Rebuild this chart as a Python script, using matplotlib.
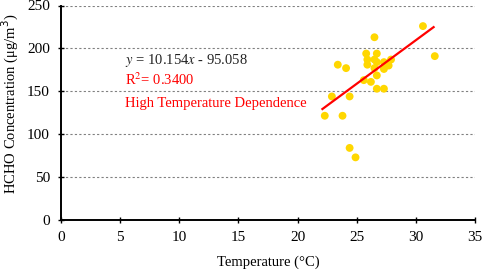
import numpy as np
import matplotlib.pyplot as plt

# Datos
temp = [22.3, 22.9, 23.4, 23.8, 24.1, 24.4, 24.4, 24.9, 25.6, 25.8,
        25.9, 25.9, 26.2, 26.5, 26.5, 26.5, 26.7, 26.7, 26.7, 26.7,
        27.3, 27.3, 27.3, 27.7, 27.9, 30.6, 31.6]
hcho = [121.5, 144, 181, 121.5, 177, 144, 84, 73, 163, 194,
        187, 181, 161, 213, 187, 177, 194, 184, 168.5, 153,
        184, 176, 153, 180, 187, 226, 191]
slope = 10.154
intercept = -95.058
r2 = 0.3400

plt.rcParams['font.family'] = ['Liberation Serif', 'DejaVu Serif']

fig = plt.figure(figsize=(4.84, 2.73), dpi=100)
ax = fig.add_axes([61 / 484, 1 - 220 / 273, 414 / 484, 214.5 / 273])

ax.scatter(temp, hcho, s=32, color='#FFD700', edgecolors='none', zorder=3)

xl = np.array([min(temp) - 0.2, max(temp) - 0.1])
ax.plot(xl, slope * xl + intercept, color='#FF0000', lw=1.6, zorder=4)

ax.set_xlim(0, 35)
ax.set_ylim(0, 250)
ax.set_xticks(range(0, 36, 5))
ax.set_yticks(range(0, 251, 50))
ax.yaxis.grid(True, linestyle=(0, (2, 2)), color='#808080', lw=0.8)
ax.set_axisbelow(True)
for s in ['top', 'right']:
    ax.spines[s].set_visible(False)
for s in ['left', 'bottom']:
    ax.spines[s].set_linewidth(1.4)
ax.tick_params(direction='inout', length=4, width=1, labelsize=11)
ax.tick_params(axis='x', pad=6)
ax.tick_params(axis='y', pad=6)

ax.set_xlabel('Temperature (\u00b0C)', fontsize=10.5, labelpad=8)
ax.set_ylabel('HCHO Concentration (\u03bcg/m$^3$)', fontsize=10.5)
ax.yaxis.set_label_coords(-0.097, 0.54)

ax.text(5.4, 186, '$y$ = %.3f$x$ - %.3f' % (slope, -intercept), fontsize=10.5,
        color='#222222', ha='left', va='center',
        math_fontfamily='stix')
ax.text(5.4, 163, 'R$^2$= %.4f' % r2, fontsize=10.5, color='#FF0000',
        ha='left', va='center', math_fontfamily='stix')
ax.text(5.4, 136, 'High Temperature Dependence', fontsize=10.5,
        color='#FF0000', ha='left', va='center')

fig.savefig('out.png', dpi=100)
